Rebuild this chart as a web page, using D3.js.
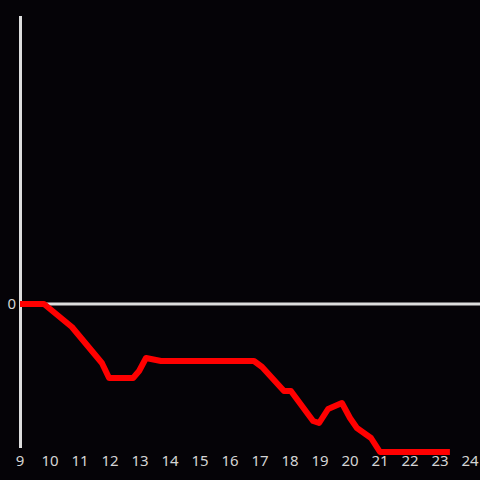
<!DOCTYPE html>
<html><head><meta charset="utf-8">
<script src="https://cdn.jsdelivr.net/npm/d3@7"></script>
<style>html,body{margin:0;padding:0;background:#050307;}svg{display:block;}</style>
</head><body>
<script>
const hours = [9.0, 9.8, 10.73, 11.73, 11.97, 12.77, 12.97, 13.2, 13.7, 16.8, 17.07, 17.8, 18.03, 18.77, 18.97, 19.27, 19.73, 20.0, 20.23, 20.7, 21.0, 23.33];
const values = [0, 0, -23, -59, -74, -74, -67, -54, -57, -57, -63, -87, -87, -117, -119, -105, -99, -114, -124, -134, -148, -148];
const xTicks = [9,10,11,12,13,14,15,16,17,18,19,20,21,22,23,24];
const yTicks = [0];

const W = 480, H = 480;
const svg = d3.select("body").append("svg").attr("width", W).attr("height", H);
svg.append("rect").attr("width", W).attr("height", H).attr("fill", "#050307");

const x = d3.scaleLinear().domain([9, 24]).range([20, 470]);
const y = d3.scaleLinear().domain([-144, 288]).range([448, 16]);

// y axis line
svg.append("line").attr("x1", 20.5).attr("x2", 20.5).attr("y1", y(288)).attr("y2", y(-144))
  .attr("stroke", "#dddddd").attr("stroke-width", 3);
// zero line
svg.append("line").attr("x1", 20).attr("x2", 480).attr("y1", y(0)).attr("y2", y(0))
  .attr("stroke", "#dddddd").attr("stroke-width", 3);

const font = "'Noto Sans', sans-serif";
svg.append("g").selectAll("text").data(xTicks).join("text")
  .attr("x", d => x(d)).attr("y", 466.3)
  .attr("text-anchor", "middle").attr("fill", "#d4d4d4")
  .attr("font-family", font).attr("font-size", 15).text(d => d);
svg.append("g").selectAll("text").data(yTicks).join("text")
  .attr("x", 16).attr("y", d => y(d) + 5.3)
  .attr("text-anchor", "end").attr("fill", "#d4d4d4")
  .attr("font-family", font).attr("font-size", 15).text(d => d);

const pts = hours.map((h, i) => [h, values[i]]);
svg.append("path").datum(pts)
  .attr("d", d3.line().x(d => x(d[0])).y(d => y(d[1])))
  .attr("fill", "none").attr("stroke", "#ff0000").attr("stroke-width", 6)
  .attr("stroke-linejoin", "round").attr("stroke-linecap", "butt");
</script>
</body></html>
